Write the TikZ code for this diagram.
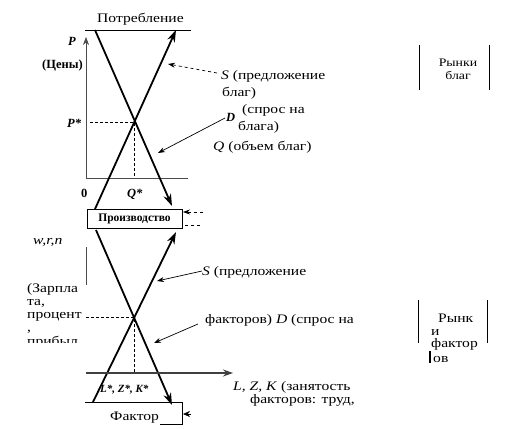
\documentclass[tikz,border=0pt]{standalone}
\usepackage{fontspec}
\setmainfont{Liberation Serif}
\newfontfamily\lbl[FakeStretch=1.2]{Liberation Serif}
\usetikzlibrary{arrows.meta}
\begin{document}
\begin{tikzpicture}[x=1pt,y=-1pt,
  curve/.style={line width=1.8pt},
  tipbig/.style={-{Stealth[length=12pt,width=8pt]}},
  axisline/.style={line width=0.6pt, black!70},
  note/.style={line width=0.7pt,-{Stealth[length=7pt,width=5pt]}},
  lab/.style={inner sep=0pt, anchor=base west, font=\lbl\fontsize{13}{13}\selectfont},
  blab/.style={inner sep=0pt, anchor=base west, font=\bfseries\fontsize{12.5}{12.5}\selectfont},
  guide/.style={densely dashed, line width=0.5pt},
  boxline/.style={line width=1pt}]
\useasboundingbox (0,0) rectangle (507,429);

% ---------- upper market (goods) ----------
\coordinate (topL) at (85,30);
\coordinate (topR) at (191,30);
\draw[boxline] (topL) -- (topR);
\node[lab] (potr) at (97,22) {Потребление};

\coordinate (O1) at (86,178);
\coordinate (Ptop) at (86,37);
\coordinate (Qend) at (188,178);
\draw[axisline,-{Stealth[length=8pt,width=6pt]}] (O1) -- (Ptop);
\draw[axisline] (O1) -- (Qend);

\coordinate (Dstart) at (95,30);
\coordinate (Dend) at (172,206);
\coordinate (Sstart) at (95,209);
\coordinate (Send) at (176,30);
\draw[curve,tipbig] (Dstart) -- (Dend);
\draw[curve,tipbig] (Sstart) -- (Send);

\coordinate (E1) at (134,122);
\coordinate (Pst) at (90,122);
\coordinate (Qst) at (134,178);
\draw[guide] (Pst) -- (E1) -- (Qst);

\node[blab] (Plab) at (68,45) {\itshape P};
\node[blab] (Plab2) at (42,68) {(Цены)};
\node[blab] (Pstar) at (67,127) {\itshape P*};
\node[blab] (zero) at (81,197) {0};
\node[blab] (Qstar) at (127,197) {\itshape Q*};

\node[lab] (S1) at (221,79) {\textit{S} (предложение};
\node[lab] (S1b) at (222,96) {благ)};
\node[lab] (D1c) at (242,113) {(спрос на};
\node[blab] (D1) at (226,121) {\itshape D};
\node[lab] (D1d) at (238,130) {блага)};
\node[lab] (Q1) at (213,150) {\textit{Q} (объем благ)};

\coordinate (S1from) at (217,73);
\coordinate (S1tip) at (168,64);
\draw[note,dashed] (S1from) -- (S1tip);
\coordinate (D1from) at (225,118);
\coordinate (D1tip) at (158,153);
\draw[note] (D1from) -- (D1tip);

\coordinate (rb1t) at (419,45); \coordinate (rb1b) at (419,90);
\coordinate (rb2t) at (489,45); \coordinate (rb2b) at (489,90);
\draw[line width=0.8pt] (rb1t) -- (rb1b);
\draw[line width=0.8pt] (rb2t) -- (rb2b);
\node[lab,anchor=base,font=\lbl\fontsize{11.5}{11.5}\selectfont] (rg1) at (458,66) {Рынки};
\node[lab,anchor=base,font=\lbl\fontsize{11.5}{11.5}\selectfont] (rg2) at (458,79) {благ};

% ---------- production box ----------
\node[draw, boxline, minimum width=95pt, minimum height=19pt, inner sep=0pt,
      font=\bfseries\fontsize{11.5}{11.5}\selectfont] (prod) at (134.5,218.5) {Производство};
\coordinate (pa1) at (203,212); \coordinate (pa1t) at (183,212);
\draw[note,dashed] (pa1) -- (pa1t);
\coordinate (pa2) at (185,225); \coordinate (pa2e) at (203,225);
\draw[dashed,line width=0.5pt] (pa2) -- (pa2e);

% ---------- lower market (factors) ----------
\coordinate (dDs) at (96,230);
\coordinate (dDe) at (172,405);
\coordinate (dSs) at (93,402);
\coordinate (dSe) at (176,232);
\draw[curve,tipbig] (dDs) -- (dDe);
\draw[curve,tipbig] (dSs) -- (dSe);

\coordinate (O2) at (86,373);
\coordinate (Lend) at (233,373);
\draw[line width=1.2pt, black!75, -{Stealth[length=10pt,width=7pt]}] (O2) -- (Lend);
\coordinate (v2t) at (86,247); \coordinate (v2b) at (86,285);
\draw[axisline] (v2t) -- (v2b);

\coordinate (E2) at (134,317);
\coordinate (W2) at (86,317);
\coordinate (L2) at (134,373);
\draw[guide] (W2) -- (E2) -- (L2);

\node[lab] (wrn) at (33,244) {\textit{w,r,n}};
\begin{scope}
  \clip (20,278) rectangle (85,342);
  \node[lab] (z1) at (27,292) {(Зарпла};
  \node[lab] (z2) at (27,305) {та,};
  \node[lab] (z3) at (27,318) {процент};
  \node[lab] (z4) at (27,331) {,};
  \node[lab] (z5) at (27,345) {прибыл};
\end{scope}

\node[inner sep=0pt, anchor=base west, font=\bfseries\itshape\fontsize{11}{11}\selectfont]
  (Lstar) at (100,392) {L*, Z*, K*};

\node[lab] (S2) at (202,275) {\textit{S} (предложение};
\coordinate (S2from) at (202,271); \coordinate (S2tip) at (157,281);
\draw[note] (S2from) -- (S2tip);
\node[lab] (D2) at (205,323) {факторов) \textit{D} (спрос на};
\coordinate (D2from) at (198,324); \coordinate (D2tip) at (154,343);
\draw[note] (D2from) -- (D2tip);
\node[lab] (LZK) at (233,390) {\textit{L, Z, K} (занятость};
\node[lab] (LZK2) at (250,403) {факторов: труд,};

% factor box
\coordinate (fTL) at (85,402); \coordinate (fTR) at (182,402);
\coordinate (fBR) at (182,424); \coordinate (fBL) at (160,424);
\draw[boxline] (fTL) -- (fTR) -- (fBR) -- (fBL);
\node[lab] (fakt) at (110,420) {Фактор};
\coordinate (fa) at (191,414); \coordinate (fat) at (183,414);
\draw[-{Stealth[length=7pt,width=6pt]}, line width=0.6pt] (fa) -- (fat);

% right factor-market block
\coordinate (rf1t) at (418,300); \coordinate (rf1b) at (418,343);
\coordinate (rf2t) at (487,300); \coordinate (rf2b) at (487,343);
\draw[line width=0.8pt] (rf1t) -- (rf1b);
\draw[line width=0.8pt] (rf2t) -- (rf2b);
\node[lab] (rf1) at (438,322) {Рынк};
\node[lab] (rf2) at (431,335) {и};
\node[lab] (rf3) at (431,347) {фактор};
\node[lab] (rf4) at (433,362) {ов};
\coordinate (cur1) at (430,351); \coordinate (cur2) at (430,363);
\draw[line width=2pt] (cur1) -- (cur2);
\end{tikzpicture}
\end{document}
